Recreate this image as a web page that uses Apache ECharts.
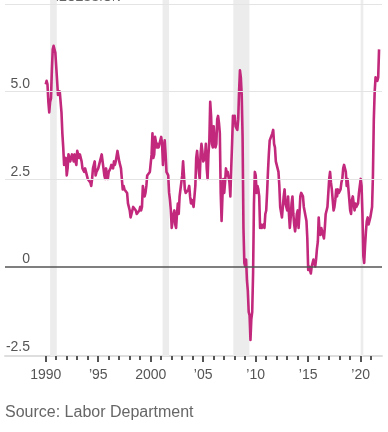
<!DOCTYPE html>
<html><head><meta charset="utf-8">
<script src="https://cdn.jsdelivr.net/npm/echarts@6/dist/echarts.min.js"></script>
<style>html,body{margin:0;padding:0;background:#fff}#c{width:388px;height:432px}</style>
</head><body><div id="c"></div>
<script>
// Consumer prices, % change from a year earlier (monthly, Jan 1990 - Oct 2021)
const firstYear = 1990;
const cpiYoY = [
  5.2, 5.3, 5.2, 4.7, 4.4, 4.7, 4.8, 5.6, 6.2, 6.3, 6.3, 6.1, // 1990
  5.7, 5.3, 4.9, 4.9, 5.0, 4.7, 4.4, 3.8, 3.4, 2.9, 3.0, 3.1, // 1991
  2.6, 2.8, 3.2, 3.2, 3.0, 3.1, 3.2, 3.1, 3.0, 3.2, 3.0, 2.9, // 1992
  3.3, 3.2, 3.1, 3.2, 3.2, 3.0, 2.8, 2.8, 2.7, 2.8, 2.7, 2.7, // 1993
  2.5, 2.5, 2.5, 2.4, 2.3, 2.5, 2.8, 2.9, 3.0, 2.6, 2.7, 2.7, // 1994
  2.8, 2.9, 2.9, 3.1, 3.2, 3.0, 2.8, 2.6, 2.5, 2.8, 2.6, 2.5, // 1995
  2.7, 2.7, 2.8, 2.9, 2.9, 2.8, 3.0, 2.9, 3.0, 3.0, 3.3, 3.3, // 1996
  3.0, 3.0, 2.8, 2.5, 2.2, 2.3, 2.2, 2.2, 2.2, 2.1, 1.8, 1.7, // 1997
  1.6, 1.4, 1.4, 1.4, 1.7, 1.7, 1.7, 1.6, 1.5, 1.5, 1.5, 1.6, // 1998
  1.7, 1.6, 1.7, 2.3, 2.1, 2.0, 2.1, 2.3, 2.6, 2.6, 2.6, 2.7, // 1999
  2.7, 3.2, 3.8, 3.1, 3.2, 3.7, 3.7, 3.4, 3.5, 3.4, 3.4, 3.4, // 2000
  3.7, 3.5, 2.9, 3.3, 3.6, 3.2, 2.7, 2.7, 2.6, 2.1, 1.9, 1.6, // 2001
  1.1, 1.1, 1.5, 1.6, 1.2, 1.1, 1.5, 1.8, 1.5, 2.0, 2.2, 2.4, // 2002
  2.6, 3.0, 3.0, 2.2, 2.1, 2.1, 2.1, 2.2, 2.3, 2.0, 1.8, 1.9, // 2003
  1.9, 1.7, 1.7, 2.3, 3.1, 3.3, 3.0, 2.7, 2.5, 3.2, 3.5, 3.3, // 2004
  3.0, 3.0, 3.1, 3.5, 2.8, 2.5, 3.2, 3.6, 4.7, 4.3, 3.5, 3.4, // 2005
  4.0, 3.6, 3.4, 3.5, 4.2, 4.3, 4.1, 3.8, 2.1, 1.3, 2.0, 2.5, // 2006
  2.1, 2.4, 2.8, 2.6, 2.7, 2.7, 2.4, 2.0, 2.8, 3.5, 4.3, 4.1, // 2007
  4.3, 4.0, 4.0, 3.9, 4.2, 5.0, 5.6, 5.4, 4.9, 3.7, 1.1, 0.1, // 2008
  0.0, 0.2, -0.4, -0.7, -1.3, -1.4, -2.1, -1.5, -1.3, -0.2, 1.8, 2.7, // 2009
  2.6, 2.1, 2.3, 2.2, 2.0, 1.1, 1.2, 1.1, 1.1, 1.2, 1.1, 1.5, // 2010
  1.6, 2.1, 2.7, 3.2, 3.6, 3.6, 3.6, 3.8, 3.9, 3.5, 3.4, 3.0, // 2011
  2.9, 2.9, 2.7, 2.3, 1.7, 1.7, 1.4, 1.7, 2.0, 2.2, 1.8, 1.7, // 2012
  1.6, 2.0, 1.5, 1.1, 1.4, 1.8, 2.0, 1.5, 1.2, 1.0, 1.2, 1.5, // 2013
  1.6, 1.1, 1.5, 2.0, 2.1, 2.1, 2.0, 1.7, 1.7, 1.7, 1.3, 0.8, // 2014
  -0.1, 0.0, -0.1, -0.2, 0.0, 0.1, 0.2, 0.2, 0.0, 0.2, 0.5, 0.7, // 2015
  1.4, 1.0, 0.9, 1.1, 1.0, 1.0, 0.8, 1.1, 1.5, 1.6, 1.7, 2.1, // 2016
  2.5, 2.7, 2.4, 2.2, 1.9, 1.6, 1.7, 1.9, 2.2, 2.0, 2.2, 2.1, // 2017
  2.1, 2.2, 2.4, 2.5, 2.8, 2.9, 2.9, 2.7, 2.3, 2.5, 2.2, 1.9, // 2018
  1.6, 1.5, 1.9, 2.0, 1.8, 1.6, 1.8, 1.7, 1.7, 1.8, 2.1, 2.3, // 2019
  2.5, 2.3, 1.5, 0.3, 0.1, 0.6, 1.0, 1.3, 1.4, 1.2, 1.2, 1.4, // 2020
  1.4, 1.7, 2.6, 4.2, 5.0, 5.4, 5.4, 5.3, 5.4, 6.2            // 2021
];
const recessionStart = [1990.42, 2001.13, 2007.87, 2020.0];
const recessionEnd   = [1991.05, 2001.75, 2009.40, 2020.25];
const xTickYears  = [1990, 1995, 2000, 2005, 2010, 2015, 2020];
const xTickLabels = ['1990', '\u201995', '2000', '\u201905', '\u201910', '\u201915', '\u201920'];
const xMinorYears = [1990,1991,1992,1993,1994,1995,1996,1997,1998,1999,2000,2001,2002,2003,2004,2005,
                     2006,2007,2008,2009,2010,2011,2012,2013,2014,2015,2016,2017,2018,2019,2020,2021];
const yTickValues = [-2.5, 0, 2.5, 5];
const yTickLabels = ['-2.5', '0', '2.5', '5.0'];
const yGridValues = [2.5, 5, 7.5];
const sourceText = 'Source: Labor Department';
const recessionText = 'RECESSION';

const FONT = '"Liberation Sans", Arial, sans-serif';
const points = cpiYoY.map((v, i) => [firstYear + i / 12, v]);

const chart = echarts.init(document.getElementById('c'), null, {renderer: 'canvas'});
chart.setOption({
  animation: false,
  backgroundColor: '#fff',
  grid: {left: 5, right: 6, top: 0, bottom: 76, containLabel: false},
  xAxis: [{
    type: 'value', min: 1986.12, max: 2022.03, position: 'bottom',
    splitLine: {show: false},
    axisLine: {show: true, onZero: false, lineStyle: {color: '#dedede', width: 2}},
    axisTick: {show: true, customValues: xTickYears, length: 6, lineStyle: {color: '#555', width: 2}},
    axisLabel: {
      customValues: xTickYears, margin: 12,
      fontFamily: FONT, fontSize: 14, color: '#555',
      formatter: v => { const i = xTickYears.indexOf(Math.round(v)); return i >= 0 ? xTickLabels[i] : ''; }
    }
  }, {
    type: 'value', min: 1986.12, max: 2022.03, position: 'bottom',
    splitLine: {show: false},
    axisLine: {show: false, onZero: false},
    axisTick: {show: true, customValues: xMinorYears, length: 4, lineStyle: {color: '#555', width: 2}},
    axisLabel: {show: false}
  }],
  yAxis: {
    type: 'value', min: -2.557, max: 7.61,
    splitLine: {show: false}, axisLine: {show: false}, axisTick: {show: false},
    axisLabel: {
      customValues: yTickValues, margin: -25, align: 'right', verticalAlign: 'bottom',
      padding: [0, 0, 0, 0],
      fontFamily: FONT, fontSize: 14, color: '#555',
      formatter: v => { const i = yTickValues.findIndex(t => Math.abs(t - v) < 1e-6); return i >= 0 ? yTickLabels[i] : ''; }
    }
  },
  series: [{
    type: 'line', data: [], z: 1, silent: true,
    markArea: {
      silent: true,
      itemStyle: {color: '#ececec'},
      data: recessionStart.map((s, i) => [{xAxis: s}, {xAxis: recessionEnd[i]}])
    },
    markLine: {
      silent: true, symbol: 'none', label: {show: false},
      lineStyle: {color: '#e4e4e4', width: 1, type: 'solid'},
      data: yGridValues.map(v => ({yAxis: v}))
    }
  }, {
    type: 'line', data: [], z: 2, silent: true,
    markLine: {
      silent: true, symbol: 'none', label: {show: false},
      lineStyle: {color: '#555', width: 1.5, type: 'solid'},
      data: [{yAxis: 0}]
    }
  }, {
    type: 'line', data: points, z: 3, showSymbol: false, symbol: 'none',
    lineStyle: {color: '#c2287b', width: 2.6, join: 'round'},
    silent: true
  }],
  graphic: [{
    type: 'text', left: 50, top: -8,
    style: {text: recessionText, font: '12px ' + FONT, fill: '#666'}
  }, {
    type: 'text', left: 5, top: 405,
    style: {text: sourceText, font: '16px ' + FONT, fill: '#666'}
  }]
});
</script></body></html>
